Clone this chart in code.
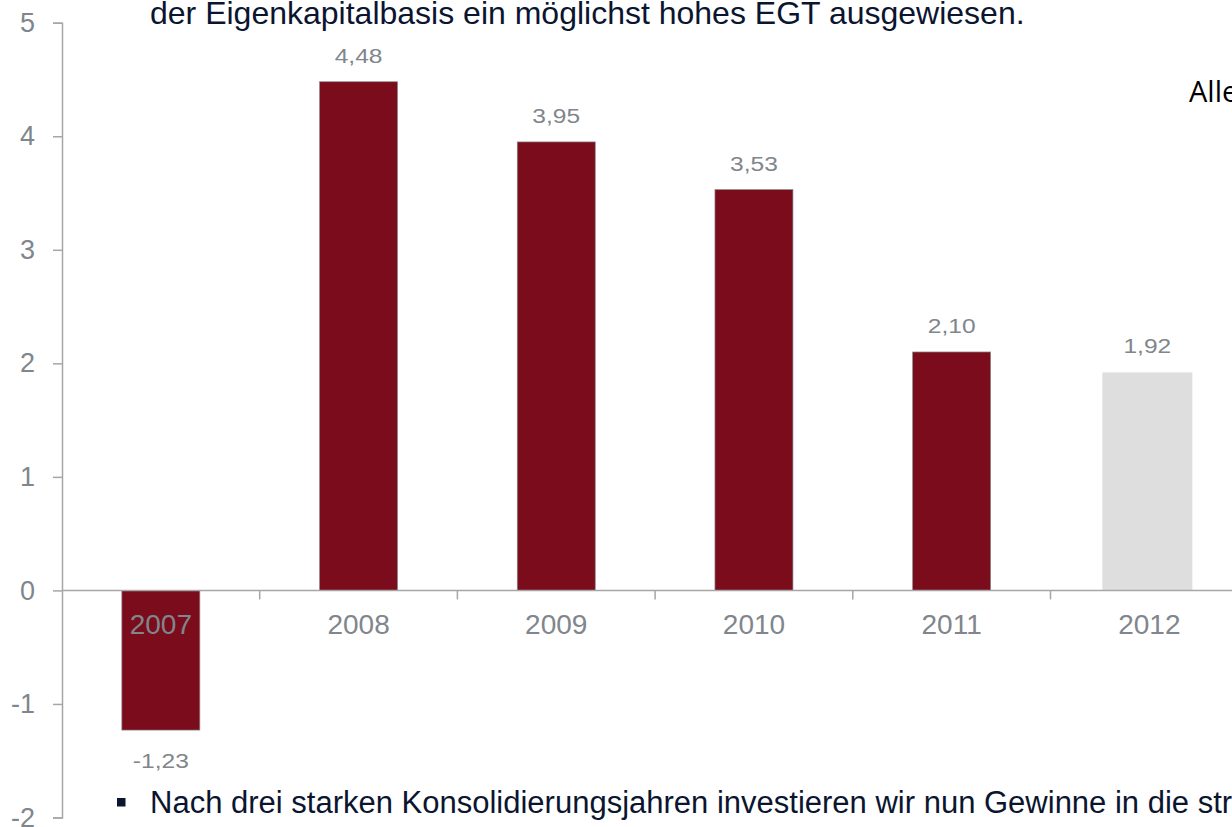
<!DOCTYPE html>
<html>
<head>
<meta charset="utf-8">
<script src="https://cdn.jsdelivr.net/npm/d3@7"></script>
<style>
  body { margin: 0; background: #fff; overflow: hidden; }
  svg { display: block; }
</style>
</head>
<body>
<div id="chart"></div>
<script>
// data
let years = ['2007', '2008', '2009', '2010', '2011', '2012']
let values = [-1.23, 4.48, 3.95, 3.53, 2.1, 1.92]
let forecast = [false, false, false, false, false, true]
let yTicks = [-2, -1, 0, 1, 2, 3, 4, 5]

let width = 1232
let height = 827

let svg = d3
  .select('#chart')
  .append('svg')
  .attr('width', width)
  .attr('height', height)

let xPositionScale = d3
  .scaleBand()
  .domain(years)
  .range([62, 62 + 197.7 * years.length])

let yPositionScale = d3
  .scaleLinear()
  .domain([-2, 5])
  .range([817.5, 22.7])

let labelColor = '#80868c'
let axisColor = '#a6a6a6'
let font = 'Liberation Sans, Arial, sans-serif'

// y axis
let yAxis = d3
  .axisLeft(yPositionScale)
  .tickValues(yTicks)
  .tickSize(9)
  .tickPadding(18)
  .tickFormat(d => String(d))

let yG = svg
  .append('g')
  .attr('class', 'axis y-axis')
  .attr('transform', 'translate(62,0)')
  .call(yAxis)
yG.select('.domain').attr('stroke', axisColor).attr('stroke-width', 1.5)
yG.selectAll('line').attr('stroke', axisColor).attr('stroke-width', 1.5)
yG.selectAll('text')
  .attr('fill', labelColor)
  .attr('font-family', font)
  .attr('font-size', 27)

// bars
let barX = (d, i) => xPositionScale(d) + xPositionScale.bandwidth() / 2 - (forecast[i] ? 2 : 0)
let barW = (d, i) => (forecast[i] ? 90 : 78)

svg
  .selectAll('.bar')
  .data(years)
  .enter()
  .append('rect')
  .attr('class', 'bar')
  .attr('x', (d, i) => barX(d, i) - barW(d, i) / 2)
  .attr('width', barW)
  .attr('y', (d, i) => yPositionScale(Math.max(0, values[i])))
  .attr('height', (d, i) => Math.abs(yPositionScale(values[i]) - yPositionScale(0)))
  .attr('fill', (d, i) => (forecast[i] ? '#dedede' : '#7a0c1c'))
  .attr('stroke', (d, i) => (forecast[i] ? 'none' : '#8a8a8a'))
  .attr('stroke-width', 0.7)

// x axis along zero
let xAxis = d3
  .axisBottom(xPositionScale)
  .tickSize(0)
  .tickPadding(24)

let xG = svg
  .append('g')
  .attr('class', 'axis x-axis')
  .attr('transform', `translate(0,${yPositionScale(0)})`)
  .call(xAxis)
xG.select('.domain').remove()
xG.selectAll('text')
  .attr('fill', labelColor)
  .attr('font-family', font)
  .attr('font-size', 28)

xG.append('line')
  .attr('x1', 62)
  .attr('x2', width)
  .attr('stroke', axisColor)
  .attr('stroke-width', 1.5)

// category boundary ticks
xG.selectAll('.sep')
  .data(years.slice(1))
  .enter()
  .append('line')
  .attr('class', 'sep')
  .attr('x1', d => xPositionScale(d))
  .attr('x2', d => xPositionScale(d))
  .attr('y1', 0)
  .attr('y2', 9)
  .attr('stroke', axisColor)
  .attr('stroke-width', 1.5)

// value labels (slightly stretched like the original)
svg
  .selectAll('.value')
  .data(years)
  .enter()
  .append('text')
  .attr('class', 'value')
  .text((d, i) => values[i].toFixed(2).replace('.', ','))
  .attr('transform', (d, i) => {
    let y = values[i] >= 0 ? yPositionScale(values[i]) - 19 : yPositionScale(values[i]) + 38
    return `translate(${barX(d, i)},${y}) scale(1.17,1)`
  })
  .attr('text-anchor', 'middle')
  .attr('fill', labelColor)
  .attr('font-family', font)
  .attr('font-size', 21)

// overlapping slide text
svg
  .append('text')
  .text('der Eigenkapitalbasis ein möglichst hohes EGT ausgewiesen.')
  .attr('x', 150)
  .attr('y', 24)
  .attr('fill', '#0b1530')
  .attr('font-family', font)
  .attr('font-size', 32)

svg
  .append('text')
  .text('Alle')
  .attr('x', 1189)
  .attr('y', 102)
  .attr('fill', '#000')
  .attr('font-family', 'Open Sans, sans-serif')
  .attr('font-size', 29)

svg
  .append('rect')
  .attr('x', 117)
  .attr('y', 798)
  .attr('width', 8.5)
  .attr('height', 8.5)
  .attr('fill', '#0b1530')

svg
  .append('text')
  .text('Nach drei starken Konsolidierungsjahren investieren wir nun Gewinne in die strategische')
  .attr('x', 150)
  .attr('y', 813)
  .attr('fill', '#0b1530')
  .attr('font-family', font)
  .attr('font-size', 31)
</script>
</body>
</html>
